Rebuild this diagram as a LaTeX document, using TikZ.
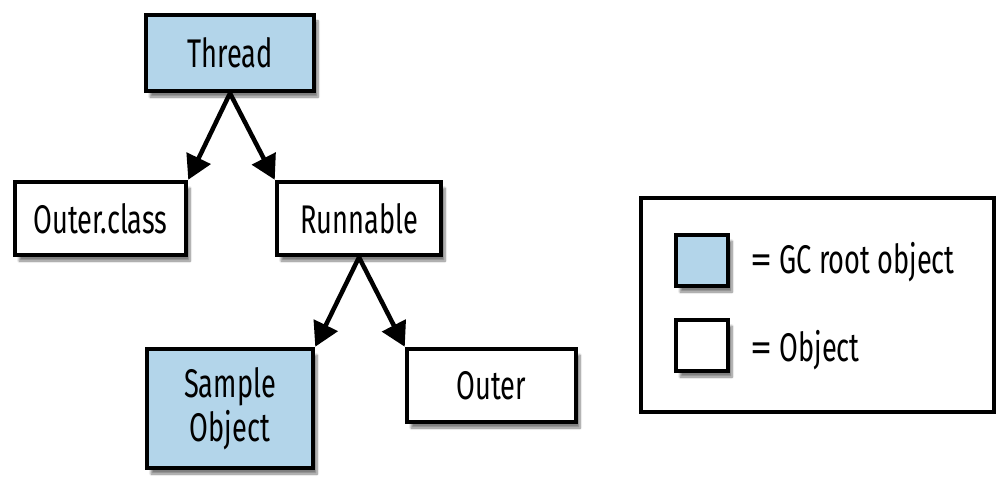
\documentclass[tikz,border=0pt]{standalone}
\usepackage{fontspec}
\setmainfont{Fira Sans}[FakeStretch=0.68]
\usetikzlibrary{arrows.meta,shadows.blur}
\definecolor{rootblue}{RGB}{179,213,234}
\begin{document}
\begin{tikzpicture}[x=1pt,y=-1pt,
  obj/.style={draw=black, line width=4.5pt, fill=white, align=center,
    font=\fontsize{40}{44}\selectfont, inner sep=0pt,
    blur shadow={shadow xshift=4pt, shadow yshift=-6pt, shadow blur steps=8, shadow opacity=50}},
  root/.style={obj, fill=rootblue},
  conn/.style={line width=4.5pt, -{Triangle[length=24pt,width=26pt]}},
  legtext/.style={anchor=west, font=\fontsize{40}{44}\selectfont, inner sep=0pt}]
\useasboundingbox (0,0) rectangle (1000,500);
\node[root, minimum width=168pt, minimum height=76pt] (thread) at (230,53) {Thread};
\node[obj, minimum width=171pt, minimum height=73pt] (outerclass) at (100.5,218.5) {Outer.class};
\node[obj, minimum width=164pt, minimum height=73pt] (runnable) at (359,218.5) {Runnable};
\node[root, minimum width=166pt, minimum height=119pt] (sample) at (230,408.5) {Sample\\Object};
\node[obj, minimum width=169pt, minimum height=73pt] (outer) at (491.5,385.5) {Outer};
\draw[conn] (thread.south) -- (outerclass.north east);
\draw[conn] (thread.south) -- (runnable.north west);
\draw[conn] (runnable.south) -- (sample.north east);
\draw[conn] (runnable.south) -- (outer.north west);
\node[draw=black, line width=4pt, minimum width=353pt, minimum height=214pt] (legend) at (817.5,305) {};
\node[root, minimum width=52pt, minimum height=51pt] (legroot) at (702,260.5) {};
\node[obj, minimum width=52pt, minimum height=51pt] (legobj) at (702,345.5) {};
\node[legtext] (legroottext) at (750,262) {{\addfontfeature{FakeStretch=1.1}=} GC root object};
\node[legtext] (legobjtext) at (750,350) {{\addfontfeature{FakeStretch=1.1}=} Object};
\end{tikzpicture}
\end{document}
